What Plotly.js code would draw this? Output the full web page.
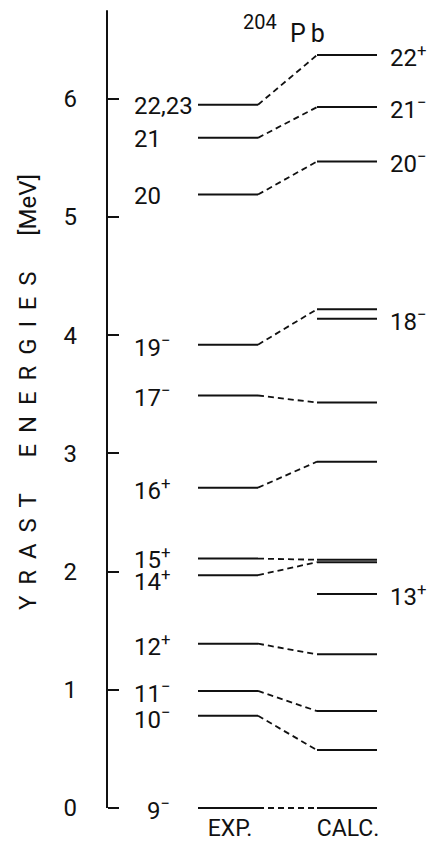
<!DOCTYPE html>
<html>
<head>
<meta charset="utf-8">
<script src="https://cdn.plot.ly/plotly-3.0.1.min.js"></script>
<style>html,body{margin:0;padding:0;background:#fff;}#chart{width:445px;height:842px;}</style>
</head>
<body>
<div id="chart"></div>
<script>
// ---- data ----
const spins       = ["9-", "10-", "11-", "12+", "14+", "15+", "16+", "17-", "19-", "20-", "21-", "22+"];
const expLabels   = ["9<sup>−</sup>", "10<sup>−</sup>", "11<sup>−</sup>", "12<sup>+</sup>", "14<sup>+</sup>", "15<sup>+</sup>", "16<sup>+</sup>", "17<sup>−</sup>", "19<sup>−</sup>", "20", "21", "22,23"];
const expEnergy   = [0.00, 0.78, 0.99, 1.39, 1.97, 2.11, 2.71, 3.49, 3.92, 5.19, 5.67, 5.95];
const calcEnergy  = [0.00, 0.49, 0.82, 1.30, 2.08, 2.10, 2.93, 3.43, 4.22, 5.47, 5.93, 6.37];
const calcOnlySpins  = ["13+", "18-"];
const calcOnlyEnergy = [1.81, 4.14];
const calcLabelSpins = ["22+", "21-", "20-", "18-", "13+"];
const calcLabels     = ["22<sup>+</sup>", "21<sup>−</sup>", "20<sup>−</sup>", "18<sup>−</sup>", "13<sup>+</sup>"];
const columnNames = ["EXP.", "CALC."];
const yTicks = [0, 1, 2, 3, 4, 5, 6];
const massNumber = "204";
const element = "P\u2009b";
const yTitleWords = ["YRAST", "ENERGIES"];
const yTitleUnit = "[MeV]";

// ---- layout constants (pixel-like x units; x=0 at the energy axis) ----
const EXP_X = [91, 151], CALC_X = [210, 270];
const LEFT_LABEL_X = 25, RIGHT_LABEL_X = 281;
const FONT = "Roboto, 'Liberation Sans', sans-serif";
const INK = "#111";
const LETTER_GAP = "\u00a0\u2009";
const WORD_GAP = "\u00a0\u00a0\u00a0\u00a0\u00a0\u00a0";
const yTitle = yTitleWords.map(w => w.split("").join(LETTER_GAP)).join(WORD_GAP) + WORD_GAP + yTitleUnit;
// small vertical nudges for crowded labels (pixels)
const LABEL_NUDGE = {"14+": -5, "15+": 1, "10-": -2};

const seg = (xs, ys) => {
  const X = [], Y = [];
  ys.forEach(v => { X.push(xs[0], xs[1], null); Y.push(v, v, null); });
  return {X, Y};
};
const expSeg = seg(EXP_X, expEnergy);
const calcAll = calcEnergy.concat(calcOnlyEnergy);
const calcSeg = seg(CALC_X, calcAll);
const dX = [], dY = [];
expEnergy.forEach((e, i) => { dX.push(EXP_X[1], CALC_X[0], null); dY.push(e, calcEnergy[i], null); });

const calcLookup = {};
spins.forEach((s, i) => calcLookup[s] = calcEnergy[i]);
calcOnlySpins.forEach((s, i) => calcLookup[s] = calcOnlyEnergy[i]);

const traces = [
  {x: [0, 0], y: [0, 6.75], mode: "lines", line: {color: INK, width: 2}, hoverinfo: "skip"},
  {x: expSeg.X, y: expSeg.Y, mode: "lines", line: {color: INK, width: 2}, hoverinfo: "skip"},
  {x: calcSeg.X, y: calcSeg.Y, mode: "lines", line: {color: INK, width: 2}, hoverinfo: "skip"},
  {x: dX, y: dY, mode: "lines", line: {color: INK, width: 1.8, dash: "6px,4px"}, hoverinfo: "skip"}
];

const annotations = [];
expLabels.forEach((t, i) => {
  const short = t.replace(/<[^>]+>/g, "").replace(/[−+]/g, "").length < 2;
  const nudge = LABEL_NUDGE[spins[i]] !== undefined ? LABEL_NUDGE[spins[i]] : -1;
  annotations.push({x: short ? LEFT_LABEL_X + 13 : LEFT_LABEL_X, y: expEnergy[i], xref: "x", yref: "y",
    text: t, showarrow: false, xanchor: "left", yanchor: "middle", yshift: nudge,
    font: {family: FONT, size: 24, color: INK}});
});
calcLabelSpins.forEach((s, i) => {
  annotations.push({x: RIGHT_LABEL_X, y: calcLookup[s], xref: "x", yref: "y",
    text: calcLabels[i], showarrow: false, xanchor: "left", yanchor: "middle", yshift: -1,
    font: {family: FONT, size: 24, color: INK}});
});
// nucleus label: mass number raised, element symbol below-right
annotations.push({x: 134, y: 6.65, xref: "x", yref: "y", text: massNumber, showarrow: false,
  xanchor: "left", yanchor: "middle", font: {family: FONT, size: 20, color: INK}});
annotations.push({x: 181, y: 6.55, xref: "x", yref: "y", text: element, showarrow: false,
  xanchor: "left", yanchor: "middle", font: {family: FONT, size: 25, color: INK}});
// y title
annotations.push({x: (28 - 100) / 345, y: 3.52, xref: "paper", xanchor: "center", yref: "y", yanchor: "middle",
  text: yTitle, textangle: -90, showarrow: false, font: {family: FONT, size: 24, color: INK}});

const layout = {
  width: 445, height: 842,
  margin: {l: 100, r: 0, t: 9, b: 30, pad: 0},
  paper_bgcolor: "#fff", plot_bgcolor: "#fff",
  showlegend: false,
  xaxis: {range: [-7, 338], showgrid: false, zeroline: false, showline: false, ticks: "",
    tickvals: [(EXP_X[0] + EXP_X[1]) / 2 + 2, (CALC_X[0] + CALC_X[1]) / 2 + 1], ticktext: columnNames,
    tickfont: {family: FONT, size: 23, color: INK}, ticklabelstandoff: 0, fixedrange: true},
  yaxis: {range: [-0.034, 6.76], anchor: "free", position: 7 / 345, side: "left",
    showgrid: false, zeroline: false, showline: false,
    ticks: "inside", ticklen: 11, tickwidth: 2, tickcolor: INK,
    tickvals: yTicks, ticktext: yTicks.map(String), ticklabelstandoff: 30,
    tickfont: {family: FONT, size: 24, color: INK}, fixedrange: true},
  annotations: annotations
};

Plotly.newPlot("chart", traces, layout, {staticPlot: true, displayModeBar: false});
</script>
</body>
</html>
